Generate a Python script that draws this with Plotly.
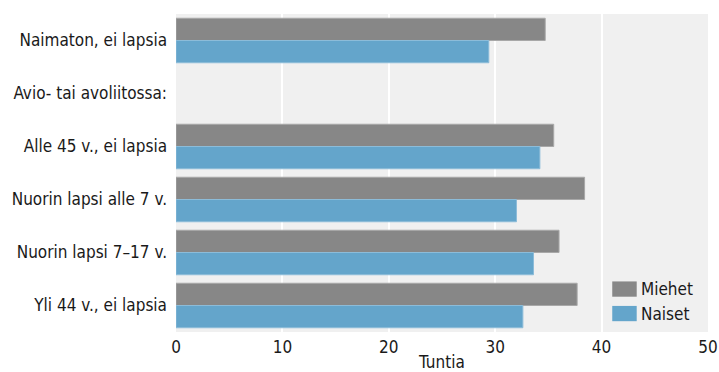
import plotly.graph_objects as go

# Weekly working hours by family situation
categories = [
    "Naimaton, ei lapsia",
    "Avio- tai avoliitossa:",
    "Alle 45 v., ei lapsia",
    "Nuorin lapsi alle 7 v.",
    "Nuorin lapsi 7–17 v.",
    "Yli 44 v., ei lapsia",
]
miehet = [34.7, None, 35.5, 38.4, 36.0, 37.7]
naiset = [29.4, None, 34.2, 32.0, 33.6, 32.6]
x_ticks = [0, 10, 20, 30, 40, 50]
series_names = ["Miehet", "Naiset"]
series_colors = ["#878787", "#64a5cb"]
border_colors = ["#a8a8a8", "#8cbcd9"]

FONT = "DejaVu Sans Condensed, Liberation Sans Narrow, sans-serif"
BG = "#f0f0f0"
TXT = "#1a1a1a"

fig = go.Figure()
for name, vals, col, bcol in zip(series_names, [miehet, naiset], series_colors, border_colors):
    fig.add_trace(go.Bar(
        y=categories, x=vals, name=name, orientation="h",
        marker=dict(color=col, line=dict(color=bcol, width=1)),
        showlegend=False,
    ))

# Legend box drawn in the lower right corner of the plot area
fig.add_shape(type="rect", xref="paper", yref="paper",
              x0=0.804, x1=1.0, y0=0.01, y1=0.18,
              fillcolor=BG, line=dict(width=0), layer="above")
for i, (name, col) in enumerate(zip(series_names, series_colors)):
    yc = 0.135 - i * 0.077
    fig.add_shape(type="rect", xref="paper", yref="paper",
                  x0=0.820, x1=0.866, y0=yc - 0.024, y1=yc + 0.024,
                  fillcolor=col, line=dict(width=0), layer="above")
    fig.add_annotation(xref="paper", yref="paper", x=0.870, y=yc,
                       text=name, showarrow=False, xanchor="left",
                       yanchor="middle", font=dict(size=17, color=TXT))

fig.update_layout(
    width=719, height=372,
    margin=dict(l=176, r=11, t=14, b=40),
    paper_bgcolor="white",
    plot_bgcolor=BG,
    barmode="group",
    bargap=0.16,
    bargroupgap=0,
    font=dict(family=FONT, size=17, color=TXT),
    xaxis=dict(
        range=[0, 50], tickvals=x_ticks, showgrid=True,
        gridcolor="white", gridwidth=2, zeroline=False, automargin=False,
        ticks="", ticklabelstandoff=3,
        title=dict(text="Tuntia", standoff=4, font=dict(size=17)),
        tickfont=dict(size=17),
    ),
    yaxis=dict(
        autorange="reversed", showgrid=False, ticks="", automargin=False,
        ticklabelstandoff=8, tickfont=dict(size=17),
    ),
)

fig.write_html("out.html")
